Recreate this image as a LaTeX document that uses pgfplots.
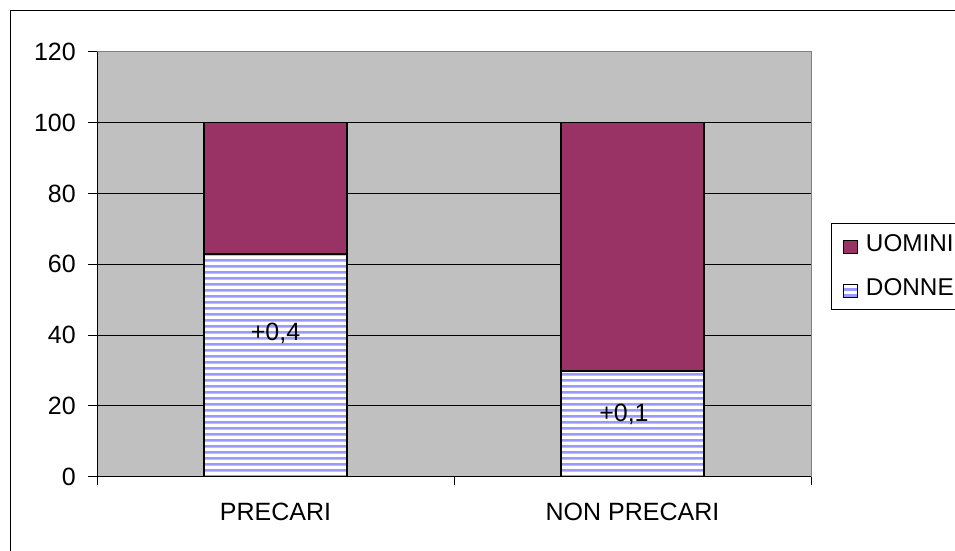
\documentclass[border=0pt]{standalone}
\usepackage{pgfplots}
\pgfplotsset{compat=1.18}
\usepackage{fontspec}
\setmainfont{Liberation Sans}
\usetikzlibrary{patterns}

\definecolor{uomini}{HTML}{993366}
\definecolor{donne}{HTML}{9999FF}
\definecolor{plotbg}{HTML}{C0C0C0}
\definecolor{plotedge}{HTML}{808080}

% white ground with lavender horizontal stripes (wide tiles, overfilled edges)
\pgfdeclarepatterninherentlycolored{donnestripes}
  {\pgfpointorigin}{\pgfqpoint{150pt}{6pt}}{\pgfqpoint{150pt}{6pt}}
  {%
    \pgfsetfillcolor{white}%
    \pgfpathrectangle{\pgfqpoint{-1pt}{-1pt}}{\pgfqpoint{152pt}{8pt}}%
    \pgfusepath{fill}%
    \pgfsetfillcolor{donne}%
    \pgfpathrectangle{\pgfqpoint{-1pt}{1.5pt}}{\pgfqpoint{152pt}{3pt}}%
    \pgfusepath{fill}%
  }

\newcommand{\chartfont}{\fontsize{25}{30}\selectfont}

\begin{document}
\begin{tikzpicture}[font=\chartfont]
\useasboundingbox (0,0) rectangle (955pt,551pt);
\clip (0,0) rectangle (955pt,551pt);
% chart frame
\draw[line width=1pt] (10.5pt,-20pt) rectangle (1000pt,540.5pt);
\begin{axis}[
  at={(97pt,74.3pt)}, anchor=south west,
  scale only axis, width=714pt, height=424.7pt,
  ymin=0, ymax=120, ytick={0,20,...,120},
  xmin=-0.5, xmax=1.5,
  xtick={-0.5,0.5,1.5},
  x tick label as interval,
  xticklabels={PRECARI,NON PRECARI},
  tick align=outside,
  major tick length=8.5pt,
  tick style={black, line width=1pt},
  axis x line*=bottom, axis y line*=left,
  axis line style={-, black, line width=1pt},
  ymajorgrids, major grid style={black, line width=1pt},
  axis background/.style={fill=plotbg},
  /pgf/number format/assume math mode=true,
  tick label style={font=\chartfont},
  yticklabel style={anchor=east, inner sep=0pt, xshift=-12.5pt},
  xticklabel style={anchor=north, inner sep=0pt, yshift=-18pt},
  ybar stacked, bar width=143pt,
  reverse legend,
  legend cell align=left,
  legend style={
    at={(1.0284,0.5967)}, anchor=north west,
    draw=black, line width=1pt, fill=white,
    font=\fontsize{24.3}{29}\selectfont,
    inner xsep=11.5pt, inner ysep=11pt,
    row sep=24.7pt, column sep=7.5pt,
    nodes={inner sep=0pt},
  },
  sq/.style={legend image code/.code={
    \draw[##1, line width=1.2pt] (0pt,-9.5pt) rectangle (14pt,3.5pt);}},
  after end axis/.code={
    \draw[plotedge, line width=1pt] (rel axis cs:0,1) -- (rel axis cs:1,1) -- (rel axis cs:1,0);
    \node[anchor=base, font=\chartfont] at (axis cs:0,38.6) {+0,4};
    \node[anchor=base, font=\chartfont] at (axis cs:0.976,15.5) {+0,1};
  },
]
\addplot[sq, pattern=donnestripes, draw=black, line width=1.3pt]
  coordinates {(0,62.9) (1,29.9)};
\addlegendentry{DONNE\hspace{25pt}}
\addplot[sq, fill=uomini, draw=black, line width=1.3pt]
  coordinates {(0,37.1) (1,70.1)};
\addlegendentry{UOMINI\hspace{25pt}}
\end{axis}
\end{tikzpicture}
\end{document}
